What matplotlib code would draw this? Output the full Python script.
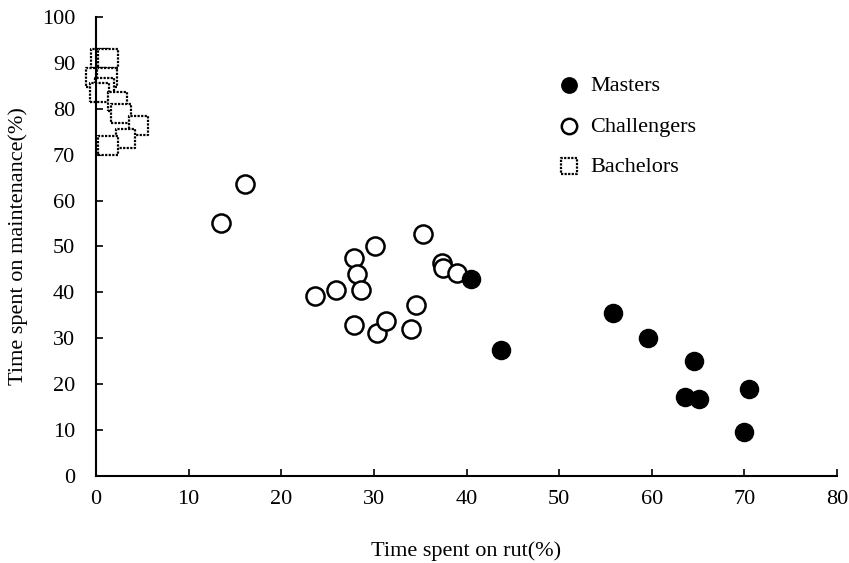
import matplotlib
matplotlib.use("Agg")
import matplotlib.pyplot as plt

# data
masters_x = [40.5, 43.7, 55.8, 59.6, 64.6, 63.6, 65.1, 70.5, 69.9]
masters_y = [43.0, 27.5, 35.5, 30.0, 25.0, 17.3, 16.8, 19.0, 9.5]

challengers_x = [16.1, 13.5, 23.6, 25.9, 27.9, 28.2, 28.6, 30.1, 27.9,
                 30.3, 31.3, 34.0, 34.6, 35.3, 37.3, 37.5, 39.0]
challengers_y = [63.5, 55.0, 39.2, 40.5, 47.5, 44.0, 40.5, 50.0, 33.0,
                 31.2, 33.8, 32.0, 37.2, 52.8, 46.5, 45.2, 44.3]

bachelors_x = [0.5, 1.3, 0.0, 1.2, 0.9, 0.4, 2.3, 2.7, 4.6, 3.2, 1.3]
bachelors_y = [90.9, 90.9, 86.8, 86.8, 84.7, 83.6, 81.6, 79.0, 76.4, 73.5, 72.0]

xticks = [0, 10, 20, 30, 40, 50, 60, 70, 80]
yticks = [0, 10, 20, 30, 40, 50, 60, 70, 80, 90, 100]

plt.rcParams['font.family'] = ['Liberation Serif', 'DejaVu Serif']
plt.rcParams['font.size'] = 16

fig = plt.figure(figsize=(8.49, 5.63), dpi=100)
ax = fig.add_axes([0.113, 0.1545, 0.873, 0.8155])

ax.scatter(bachelors_x, bachelors_y, marker='s', s=190, facecolor='white',
           edgecolor='black', linewidths=1.6, linestyle=(0, (1, 0.6)),
           label='Bachelors', zorder=2, clip_on=False)
ax.scatter(challengers_x, challengers_y, marker='o', s=170, facecolor='white',
           edgecolor='black', linewidths=1.8, label='Challengers', zorder=3)
ax.scatter(masters_x, masters_y, marker='o', s=170, facecolor='black',
           edgecolor='black', linewidths=1, label='Masters', zorder=4)

ax.set_xlim(0, 80)
ax.set_ylim(0, 100)
ax.set_xticks(xticks)
ax.set_yticks(yticks)
ax.tick_params(direction='in', length=5, width=1.2, pad=10)
ax.tick_params(axis='y', pad=15)

for side in ['top', 'right']:
    ax.spines[side].set_visible(False)
for side in ['left', 'bottom']:
    ax.spines[side].set_linewidth(1.5)

ax.set_xlabel('Time spent on rut(%)', labelpad=23)
ax.set_ylabel('Time spent on maintenance(%)', labelpad=10)

handles, labels = ax.get_legend_handles_labels()
order = [2, 1, 0]
ax.legend([handles[i] for i in order], [labels[i] for i in order],
          loc='upper left', bbox_to_anchor=(0.596, 0.916), frameon=False,
          labelspacing=0.9, handlelength=1.0, handletextpad=0.45,
          markerscale=0.85)

fig.savefig('out.png', dpi=100)
